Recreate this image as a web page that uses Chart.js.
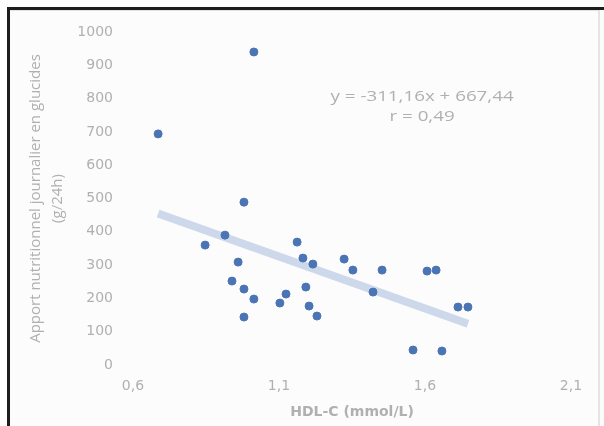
<!DOCTYPE html>
<html>
<head>
<meta charset="utf-8">
<script src="https://cdn.jsdelivr.net/npm/chart.js@4"></script>
<style>
  html, body { margin: 0; padding: 0; background: #fcfcfc; }
  #wrap { position: relative; width: 604px; height: 426px; overflow: hidden; }
  #frame { position: absolute; left: 7px; top: 7px; width: 604px; height: 430px;
           border-top: 3px solid #1c1c1c; border-left: 3px solid #1c1c1c; }
  #inner { position: absolute; left: 10px; top: 10px; width: 588px; height: 430px;
           border-top: 1px solid #e2e2e2; border-right: 2px solid #e4e4e4; }
  canvas { position: absolute; left: 0; top: 0; }
</style>
</head>
<body>
<div id="wrap">
  <canvas id="myChart" width="604" height="426"></canvas>
  <div id="inner"></div>
  <div id="frame"></div>
</div>
<script>
// HDL-C (mmol/L) vs apport en glucides (g/24h)
const hdl = [0.686, 1.014, 0.980, 0.847, 0.915, 0.960, 0.939, 0.980, 1.014, 0.980,
             1.103, 1.124, 1.162, 1.182, 1.216, 1.192, 1.203, 1.230, 1.323, 1.353,
             1.453, 1.422, 1.607, 1.638, 1.713, 1.747, 1.559, 1.658];
const glucides = [694, 940, 489, 360, 390, 309, 252, 228, 198, 144,
                  186, 213, 369, 321, 303, 234, 177, 147, 318, 285,
                  285, 219, 282, 285, 174, 174, 45, 42];

// trend line ends
const trendX = [0.686, 1.747];
const trendY = [455, 124];

const xTicks = [0.6, 1.1, 1.6, 2.1];
const yTicks = [0, 100, 200, 300, 400, 500, 600, 700, 800, 900, 1000];

const eqLines = ['y = -311,16x + 667,44', 'r = 0,49'];

const grey = '#b0b0b0';

// the equation text is wide in the original, so stretch it a bit
const equationLabel = {
    id: 'equationLabel',
    afterDatasetsDraw(chart) {
        const { ctx, scales } = chart;
        const x = scales.x.getPixelForValue(1.59);
        const y = scales.y.getPixelForValue(805);
        ctx.save();
        ctx.translate(x, y);
        ctx.scale(1.25, 1);
        ctx.fillStyle = grey;
        ctx.font = '15px "Open Sans"';
        ctx.textAlign = 'center';
        ctx.textBaseline = 'middle';
        eqLines.forEach((t, i) => ctx.fillText(t, 0, i * 20));
        ctx.restore();
    }
};

const data = {
    datasets: [
        {
            label: 'Données',
            data: hdl.map((v, i) => ({ x: v, y: glucides[i] })),
            backgroundColor: '#4a74b4',
            borderColor: '#4a74b4',
            pointRadius: 4,
            pointHoverRadius: 4,
            order: 1
        },
        {
            label: 'Tendance',
            type: 'line',
            data: trendX.map((v, i) => ({ x: v, y: trendY[i] })),
            borderColor: 'rgba(196, 210, 231, 0.85)',
            borderWidth: 8,
            pointRadius: 0,
            order: 2
        }
    ]
};

const config = {
    type: 'scatter',
    data: data,
    plugins: [equationLabel],
    options: {
        responsive: false,
        animation: false,
        layout: { padding: { top: 32, right: 33, left: 0, bottom: 0 } },
        plugins: {
            legend: { display: false },
            tooltip: { enabled: false }
        },
        scales: {
            x: {
                type: 'linear',
                min: 0.6,
                max: 2.1,
                afterBuildTicks: (s) => { s.ticks = xTicks.map(v => ({ value: v })); },
                afterFit: (s) => { s.height = 61; },
                grid: { display: false, drawTicks: false },
                border: { display: false },
                ticks: {
                    padding: 13,
                    color: grey,
                    font: { family: 'DejaVu Sans', size: 14 },
                    callback: (v) => v.toFixed(1).replace('.', ',')
                },
                title: {
                    display: true,
                    text: 'HDL-C (mmol/L)',
                    color: grey,
                    font: { family: 'DejaVu Sans', size: 14, weight: 'bold' },
                    padding: { top: 0, bottom: 5 }
                }
            },
            y: {
                min: 0,
                max: 1000,
                afterBuildTicks: (s) => { s.ticks = yTicks.map(v => ({ value: v })); },
                afterFit: (s) => { s.width = 133; },
                grid: { display: false, drawTicks: false },
                border: { display: false },
                ticks: {
                    padding: 20,
                    color: grey,
                    font: { family: 'DejaVu Sans', size: 14 },
                    callback: (v) => String(v)
                },
                title: {
                    display: true,
                    text: ['Apport nutritionnel journalier en glucides', '(g/24h)'],
                    color: grey,
                    font: { family: 'Open Sans', size: 15, lineHeight: 1.5 },
                    padding: { top: 24, bottom: 0 }
                }
            }
        }
    }
};

const ctx = document.getElementById('myChart').getContext('2d');
new Chart(ctx, config);
</script>
</body>
</html>
